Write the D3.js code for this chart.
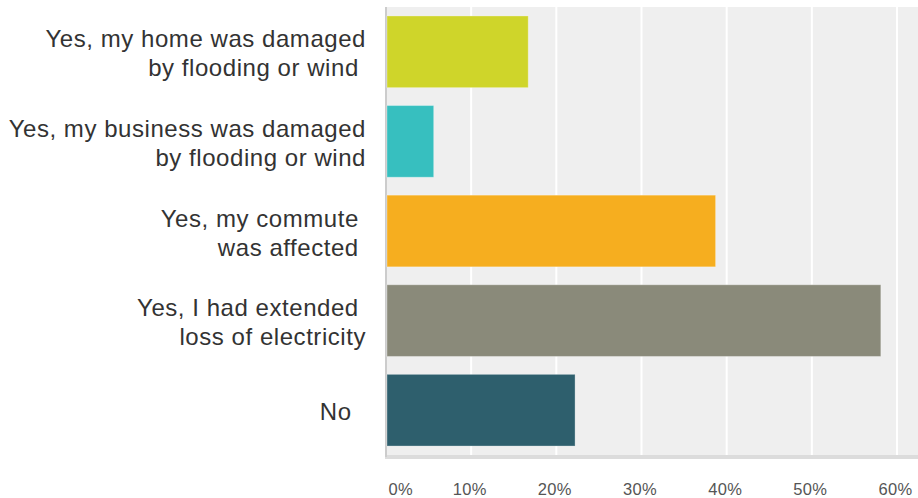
<!DOCTYPE html>
<html>
<head>
<meta charset="utf-8">
<script src="https://cdn.jsdelivr.net/npm/d3@7/dist/d3.min.js"></script>
<style>
  html, body { margin: 0; padding: 0; background: #fff; }
  svg { display: block; }
  .cat text { white-space: pre; }
</style>
</head>
<body>
<svg id="chart" width="918" height="498"></svg>
<script>
// Answer options (one entry per bar, lines split as shown on the axis)
const categories = [
  ["Yes, my home was damaged", "by flooding or wind "],
  ["Yes, my business was damaged", "by flooding or wind"],
  ["Yes, my commute ", "was affected "],
  ["Yes, I had extended ", "loss of electricity"],
  ["No  "]
];
// Share of respondents (fraction)
const values = [0.167, 0.056, 0.387, 0.581, 0.222];
const barColors = ["#cfd52a", "#37bfbf", "#f6ae1f", "#8a8a7a", "#2e5f6d"];
const tickValues = [0, 0.1, 0.2, 0.3, 0.4, 0.5, 0.6];
const tickLabels = ["0%", "10%", "20%", "30%", "40%", "50%", "60%"];

const svg = d3.select("#chart");
const W = 918;
const plotLeft = 386, plotTop = 7, plotBottom = 455;

const x = d3.scaleLinear().domain([0, 0.6]).range([plotLeft, 897]);
const y = d3.scaleBand()
  .domain(d3.range(categories.length))
  .range([plotTop, plotBottom])
  .paddingInner(0.2)
  .paddingOuter(0.1);

// plot background
svg.append("rect")
  .attr("x", plotLeft).attr("y", plotTop)
  .attr("width", W - plotLeft).attr("height", plotBottom - plotTop)
  .attr("fill", "#efefef");

// vertical gridlines
svg.append("g").selectAll("line")
  .data(tickValues.slice(1))
  .join("line")
  .attr("x1", d => x(d)).attr("x2", d => x(d))
  .attr("y1", plotTop).attr("y2", plotBottom)
  .attr("stroke", "#ffffff").attr("stroke-width", 2);

// bottom baseline
svg.append("rect")
  .attr("x", plotLeft - 1).attr("y", plotBottom)
  .attr("width", W - plotLeft + 1).attr("height", 4)
  .attr("fill", "#dcdcdc");

// left axis line
svg.append("rect")
  .attr("x", plotLeft - 1).attr("y", plotTop)
  .attr("width", 2).attr("height", plotBottom - plotTop + 2)
  .attr("fill", "#cccccc");

// bars
svg.append("g").selectAll("rect")
  .data(values)
  .join("rect")
  .attr("x", x(0) + 1)
  .attr("y", (d, i) => y(i))
  .attr("width", d => x(d) - x(0) - 1)
  .attr("height", y.bandwidth())
  .attr("fill", (d, i) => barColors[i])
  .attr("stroke", "rgba(255,255,255,0.3)")
  .attr("stroke-width", 1);

// category labels
const lineH = 29;
const cat = svg.append("g").attr("class", "cat")
  .attr("font-family", "'Liberation Sans', Arial, sans-serif")
  .attr("font-size", 24)
  .attr("letter-spacing", 0.55)
  .attr("fill", "#333333")
  .attr("text-anchor", "end");

categories.forEach((lines, i) => {
  const c = y(i) + y.bandwidth() / 2;
  const first = c + 10 - lineH * (lines.length - 1) / 2;
  const t = cat.append("text").attr("x", 366).attr("y", first);
  lines.forEach((ln, j) => {
    t.append("tspan").attr("x", 366).attr("y", first + j * lineH).text(ln);
  });
});

// x axis tick labels
const axis = d3.axisBottom(x)
  .tickValues(tickValues)
  .tickFormat((d, i) => tickLabels[i])
  .tickSize(0)
  .tickPadding(0);

const ax = svg.append("g")
  .attr("transform", `translate(-2, 0)`)
  .call(axis);
ax.select(".domain").remove();
ax.selectAll("text")
  .attr("y", 495)
  .attr("dy", null)
  .attr("font-family", "'Liberation Sans', Arial, sans-serif")
  .attr("font-size", 16.5)
  .attr("letter-spacing", 0.3)
  .attr("fill", "#555555");
ax.selectAll(".tick").filter(d => d === 0).select("text")
  .attr("text-anchor", "start")
  .attr("dx", 4);
</script>
</body>
</html>
